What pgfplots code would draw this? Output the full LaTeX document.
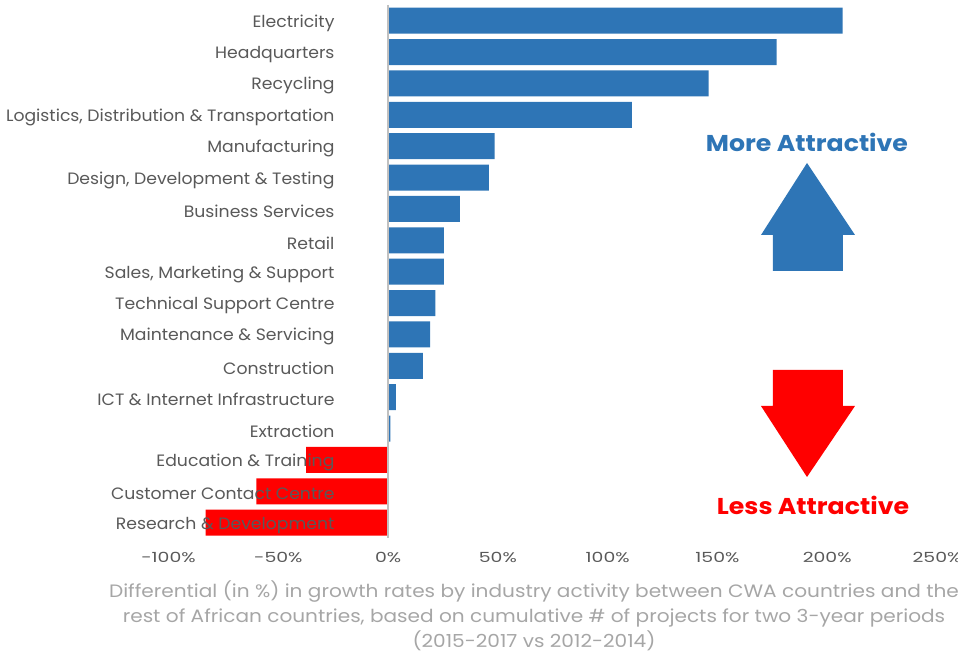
\documentclass[border=0pt]{standalone}
\usepackage{fontspec}
\setmainfont{Poppins}
\newfontfamily\labfont{Poppins}[FakeStretch=1.05]
\newfontfamily\tickfont{Poppins}[FakeStretch=1.35]
\newfontfamily\titfont{Poppins}[FakeStretch=1.12]
\newfontfamily\bigfont{Poppins}[FakeStretch=1.1]
\usepackage{pgfplots}
\pgfplotsset{compat=1.18}
\definecolor{barblue}{HTML}{2E75B6}
\definecolor{labgray}{HTML}{595959}
\definecolor{titgray}{HTML}{A6A6A6}
\definecolor{axgray}{HTML}{C0C0C0}
\begin{document}
\begin{tikzpicture}
\begin{axis}[name=ax,
  scale only axis, width=768.5bp, height=533.4bp,
  xmin=-100, xmax=250, ymin=-0.5, ymax=16.5, y dir=reverse,
  xbar, bar width=26bp,
  axis on top,
  axis x line=bottom, axis y line=left, axis line style={draw=none},
  major tick length=0pt,
  ytick={0,...,16},
  yticklabels={Electricity,Headquarters,Recycling,{Logistics, Distribution \& Transportation},Manufacturing,{Design, Development \& Testing},Business Services,Retail,{Sales, Marketing \& Support},Technical Support Centre,Maintenance \& Servicing,Construction,ICT \& Internet Infrastructure,Extraction,Education \& Training,Customer Contact Centre,Research \& Development},
  xtick={-100,-50,0,50,100,150,200,250},
  xticklabels={-100\%,-50\%,0\%,50\%,100\%,150\%,200\%,250\%},
  tick label style={text=labgray},
  yticklabel style={anchor=east, xshift=169.5bp, yshift=-2.5bp, font=\labfont\fontsize{16.5}{18}\selectfont},
  xticklabel style={yshift=-10bp, font=\tickfont\fontsize{14}{16}\selectfont},
  extra x ticks={0}, extra x tick labels={},
  extra x tick style={grid=major, major grid style={draw=axgray, line width=1.5bp}},
]
\addplot[fill=barblue, draw=none, bar shift=0pt] coordinates {
(207,0) (177,1) (146,2) (111,3) (48.5,4) (45.9,5) (32.7,6) (25.4,7) (25.4,8) (21.5,9) (19.2,10) (15.9,11) (3.6,12) (1,13)};
\addplot[fill=red, draw=none, bar shift=0pt] coordinates {
(-37.3,14) (-60,15) (-83.1,16)};
\end{axis}
\coordinate (O) at ([shift={(-168.5bp,5bp)}]ax.north west);
\begin{scope}[shift={(O)}, x=1bp, y=-1bp]
\fill[barblue] (807,163) -- (855,235) -- (843,235) -- (843,271) -- (773,271) -- (773,235) -- (761,235) -- cycle;
\fill[red] (807,477) -- (855,406) -- (843,406) -- (843,370) -- (773,370) -- (773,406) -- (761,406) -- cycle;
\node[text=barblue, font=\bigfont\fontsize{23}{26}\selectfont\bfseries] at (807,142) {More Attractive};
\node[text=red, font=\bigfont\fontsize{23}{26}\selectfont\bfseries] at (813,505) {Less Attractive};
\node[align=center, text=titgray, font=\titfont\fontsize{18}{24.8}\selectfont] at (534,616) {Differential (in \%) in growth rates by industry activity between CWA countries and the\\rest of African countries, based on cumulative \# of projects for two 3-year periods\\(2015-2017 vs 2012-2014)};
\end{scope}
\pgfresetboundingbox
\path (O) rectangle ([shift={(958bp,-655bp)}]O);
\end{tikzpicture}
\end{document}
